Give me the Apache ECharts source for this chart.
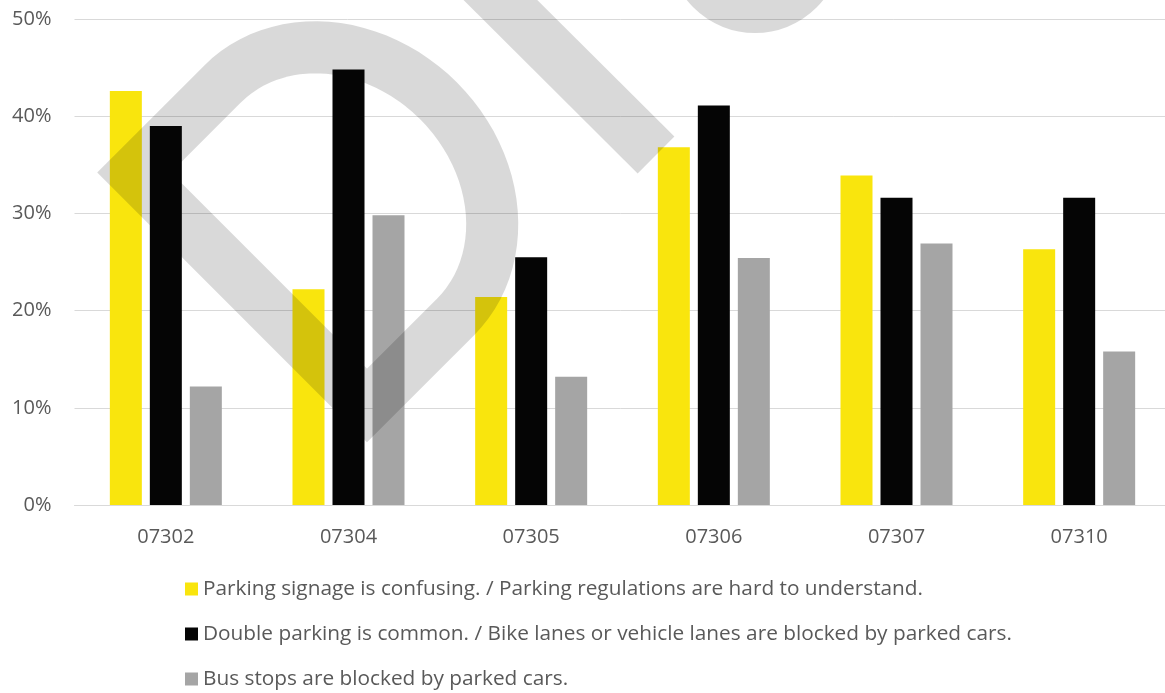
<!doctype html>
<html lang="en">
<head>
    <meta charset="UTF-8">
    <title>Parking issues by ZIP code</title>
    <script src="https://cdn.jsdelivr.net/npm/echarts@6/dist/echarts.min.js"></script>
    <style>
        html, body { margin: 0; padding: 0; background: #fff; }
        #main { width: 1165px; height: 693px; }
    </style>
</head>
<body>
<div id="main"></div>
<script type="text/javascript">
    // data (percent)
    var categories = ['07302', '07304', '07305', '07306', '07307', '07310'];
    var seriesNames = [
        'Parking signage is confusing. / Parking regulations are hard to understand.',
        'Double parking is common. / Bike lanes or vehicle lanes are blocked by parked cars.',
        'Bus stops are blocked by parked cars.'
    ];
    var signage = [42.6, 22.2, 21.4, 36.8, 33.9, 26.3];
    var doubleParking = [39.0, 44.8, 25.5, 41.1, 31.6, 31.6];
    var busStops = [12.2, 29.8, 13.2, 25.4, 26.9, 15.8];
    var yTicks = [0, 10, 20, 30, 40, 50];

    var colors = ['#f9e50d', '#050505', '#a5a5a5'];
    var labelFont = '"Open Sans", sans-serif';
    var legendFont = '"Open Sans", sans-serif';

    var myChart = echarts.init(document.getElementById('main'));

    // grey watermark over the plot: a tilted "D" outline, multiplied onto the bars
    var wm = '#d9d9d9';
    function tilt(u, v) {
        var k = Math.SQRT1_2;
        return [250.5 + (u + v) * k, 289 + (v - u) * k];
    }
    var dOutline = [tilt(0, 164.75), tilt(0, -164.75)];
    (function () {
        for (var i = 0; i <= 48; i++) {
            var a = -Math.PI / 2 + Math.PI * i / 48;
            dOutline.push(tilt(125 + 141 * Math.cos(a), 164.75 * Math.sin(a)));
        }
    })();

    var option = {
        backgroundColor: '#ffffff',
        animation: false,
        color: colors,
        grid: {left: 74.5, top: 19, width: 1096, height: 486, outerBoundsMode: 'none'},
        legend: {
            orient: 'vertical',
            left: 185,
            top: 578,
            height: 130,
            padding: 0,
            itemWidth: 13,
            itemHeight: 13,
            itemGap: 23,
            icon: 'rect',
            textStyle: {color: '#595959', fontFamily: legendFont, fontSize: 20.8, lineHeight: 22}
        },
        xAxis: {
            type: 'category',
            data: categories,
            axisLine: {lineStyle: {color: '#d9d9d9', width: 1}},
            axisTick: {show: false},
            axisLabel: {color: '#595959', fontFamily: labelFont, fontSize: 20, margin: 22}
        },
        yAxis: {
            type: 'value',
            min: yTicks[0],
            max: yTicks[yTicks.length - 1],
            interval: 10,
            axisLine: {show: false},
            axisTick: {show: false},
            splitLine: {lineStyle: {color: '#d9d9d9', width: 1}},
            axisLabel: {color: '#595959', fontFamily: labelFont, fontSize: 20, margin: 23, formatter: '{value}%'}
        },
        series: [
            {name: seriesNames[0], type: 'bar', data: signage, barWidth: 32, barGap: '25%'},
            {name: seriesNames[1], type: 'bar', data: doubleParking, barWidth: 32, barGap: '25%'},
            {name: seriesNames[2], type: 'bar', data: busStops, barWidth: 32, barGap: '25%'}
        ],
        graphic: [
            {
                type: 'polygon', z: 100, silent: true,
                shape: {points: dOutline},
                style: {fill: null, stroke: wm, lineWidth: 52, lineJoin: 'miter', miterLimit: 10, blend: 'multiply'}
            },
            {
                type: 'line', z: 100, silent: true,
                shape: {x1: 400, y1: -100, x2: 656, y2: 155},
                style: {stroke: wm, lineWidth: 52, lineCap: 'butt', blend: 'multiply'}
            },
            {
                type: 'circle', z: 100, silent: true,
                shape: {cx: 755, cy: -54, r: 61},
                style: {fill: null, stroke: wm, lineWidth: 52, blend: 'multiply'}
            }
        ]
    };

    myChart.setOption(option);
</script>
</body>
</html>
